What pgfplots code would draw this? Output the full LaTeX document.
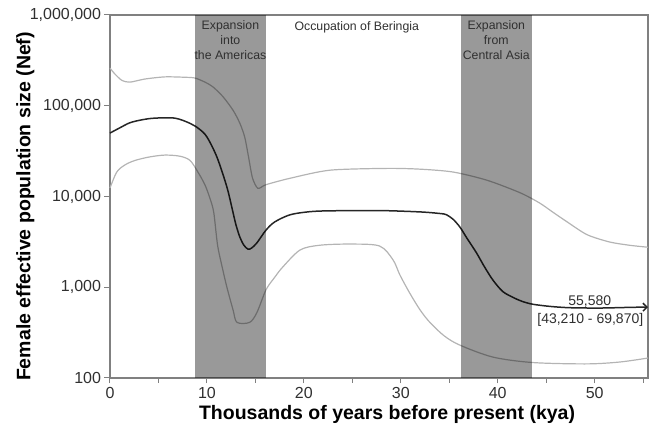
\documentclass[border=0pt]{standalone}
\usepackage{fontspec}
\setmainfont{Liberation Sans}
\usepackage{pgfplots}
\pgfplotsset{compat=1.18}
\usetikzlibrary{arrows.meta}
\definecolor{bandgray}{HTML}{999999}
\definecolor{cigray}{HTML}{B4B4B4}
\definecolor{medgray}{HTML}{262626}
\definecolor{axgray}{HTML}{808080}
\definecolor{txt}{HTML}{303030}
\begin{document}
\begin{tikzpicture}
\begin{axis}[
  width=538pt, height=363pt, scale only axis,
  xmin=0, xmax=55.5, ymin=100, ymax=1000000, ymode=log,
  clip=false,
  axis line style={axgray, line width=1.1pt},
  xtick={0,10,20,30,40,50}, minor xtick={5,15,25,35,45,55},
  ytick={100,1000,10000,100000,1000000},
  yticklabels={100,{1,000},{10,000},{100,000},{1,000,000}},
  yminorticks=false,
  tick align=outside, xtick pos=bottom, ytick pos=left,
  major tick length=5.5pt, minor tick length=5pt,
  every tick/.style={axgray, line width=1pt},
  ticklabel style={font=\fontsize{16}{18}\selectfont, text=txt},
  /pgf/number format/assume math mode=true,
  xlabel={Thousands of years before present (kya)},
  ylabel={Female effective population size (Nef)},
  every axis x label/.style={at={(axis description cs:0.515,-0.1157)}, anchor=base, font=\fontsize{19.5}{22}\selectfont\bfseries, text=black},
  every axis y label/.style={at={(axis description cs:-0.148,0.4725)}, rotate=90, anchor=base, font=\fontsize{19.5}{22}\selectfont\bfseries, text=black},
]
% upper 95% bound
\addplot[cigray, line width=1.2pt, smooth, tension=0.45] coordinates {
(0,260000) (0.5,224000) (1.24,190000) (2.06,182000) (3.6,197000) (5.67,208000)
(7.7,206000) (8.76,202000) (9.8,182000) (10.6,162000) (11.65,126000) (12.7,89000)
(13.4,64000) (13.9,45000) (14.3,27000) (14.7,16000) (15.26,12300) (16.1,13500)
(18.6,15900) (22.7,19500) (28.6,20400) (32,20000) (35.4,18600) (38.9,15100)
(42.3,11000) (44.3,8500) (45.7,6700) (47.1,5300) (49.2,3800) (51.5,3160)
(53.6,2900) (55.5,2760)
};
% lower 95% bound
\addplot[cigray, line width=1.2pt, smooth, tension=0.5] coordinates {
(0,12400) (0.7,18600) (1.55,22300) (2.6,25000) (4.1,27300) (5.67,28600)
(7.2,27800) (8.25,25000) (9.07,18600) (9.8,13400) (10.3,9600) (10.7,6700)
(11.1,2900) (11.6,1620) (12.06,1000) (12.7,560) (13.1,410) (14.4,410)
(15.15,525) (16.1,940) (17.0,1290) (17.8,1660) (19.6,2570) (21.6,2900)
(24.7,2990) (27.8,2850) (29.2,2000) (29.9,1370) (30.9,870) (32,560)
(33,410) (34.5,290) (36.1,230) (39.5,170) (43.6,148) (49.2,143)
(52.6,150) (55.5,166)
};
% median
\addplot[medgray, line width=1.5pt, smooth, tension=0.5, -{Straight Barb[length=4pt,width=8pt]}] coordinates {
(0,50000) (1.0,57000) (2.06,65000) (3.3,70000) (4.6,73000) (6.7,73000)
(8.25,64000) (9.2,55500) (10.0,45300) (11.03,27200) (12.06,12700) (12.7,6600)
(13.0,4850) (13.4,3560) (13.8,2920) (14.23,2630) (14.6,2700) (15.15,3080)
(16.1,4270) (17.0,5250) (18.6,6300) (20.6,6800) (22.7,6950) (27.8,7000)
(32,6760) (34,6500) (34.7,6300) (35.4,5600) (36.1,4600) (36.8,3500)
(37.8,2400) (38.6,1700) (39.5,1200) (40.5,900) (41.5,780) (42.5,700)
(43.6,650) (45.4,615) (47.4,595) (50.5,590) (53.6,600) (55.5,605)
};
% shaded periods
\addplot[fill=bandgray, draw=none, blend mode=multiply] coordinates {
(8.76,100) (8.76,1000000) (16.08,1000000) (16.08,100)} -- cycle;
\addplot[fill=bandgray, draw=none, blend mode=multiply] coordinates {
(36.19,100) (36.19,1000000) (43.5,1000000) (43.5,100)} -- cycle;
% labels
\node[anchor=north, align=center, inner sep=0pt, yshift=-5.5pt, text=txt,
  font=\fontsize{12.3}{15}\selectfont] at (axis cs:12.42,1000000) {Expansion\\into\\the Americas};
\node[anchor=north, align=center, inner sep=0pt, yshift=-6pt, text=txt,
  font=\fontsize{12.3}{15}\selectfont] at (axis cs:25.46,1000000) {Occupation of Beringia};
\node[anchor=north, align=center, inner sep=0pt, yshift=-5.5pt, text=txt,
  font=\fontsize{12.3}{15}\selectfont] at (axis cs:39.85,1000000) {Expansion\\from\\Central Asia};
\node[anchor=base, inner sep=0pt, text=txt, font=\fontsize{14}{16}\selectfont]
  at (axis cs:49.5,625) {55,580};
\node[anchor=base, inner sep=0pt, text=txt, font=\fontsize{14}{16}\selectfont]
  at (axis cs:49.55,400) {[43,210 - 69,870]};
\end{axis}
\path (current axis.south west) ++(-110pt,-45pt);
\path (current axis.north east) ++(2pt,15pt);
\end{tikzpicture}
\end{document}
